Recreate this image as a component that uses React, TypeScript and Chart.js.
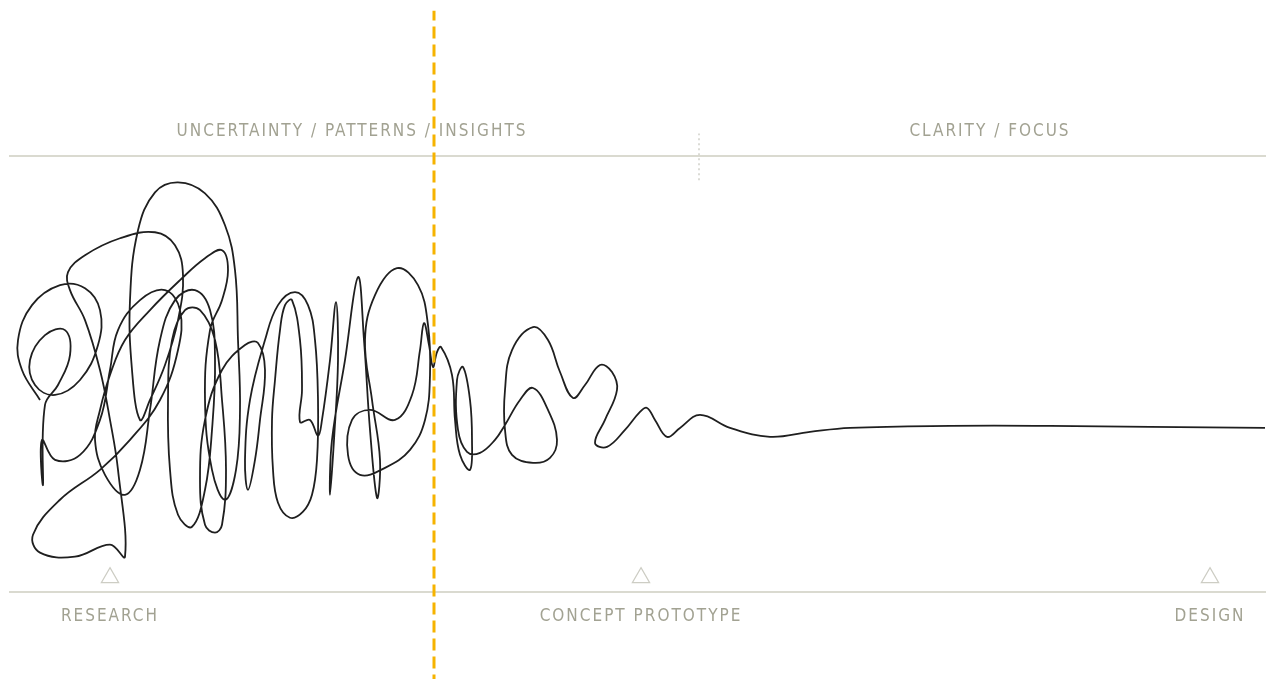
import React, { useEffect, useRef } from "react";
import { Chart, registerables } from "chart.js";

Chart.register(...registerables);

// Squiggle path: x = project progress, y = uncertainty (height above the baseline)
const SQUIGGLE_X = [
  30, 12, 8, 22, 50, 75, 90, 88, 70, 45,
  25, 20, 35, 55, 60, 48, 35, 33, 32, 45, 70,
  90, 100, 108, 130, 155, 170, 168, 150, 120, 90,
  50, 23, 30, 65, 100, 115, 108, 100, 90, 75,
  60, 58, 75, 110, 145, 165, 173, 168, 155, 140,
  130, 122, 120, 128, 145, 168, 195, 215, 225, 228,
  230, 226, 215, 202, 195, 200, 212, 218, 212, 195,
  170, 140, 115, 100, 90, 85, 95, 115, 130, 140,
  150, 165, 185, 200, 205, 202, 195, 182, 168, 160,
  158, 162, 175, 190, 205, 212, 216, 212, 205, 195,
  190, 195, 212, 235, 248, 255, 250, 245, 238, 235,
  240, 255, 268, 285, 298, 305, 308, 307, 302, 293,
  280, 268, 263, 262, 265, 270, 275, 282, 290, 292,
  290, 300, 308, 312, 320, 326, 328, 324, 320, 322,
  335, 348, 354, 360, 367, 370, 362, 355, 365, 387,
  408, 418, 420, 415, 400, 375, 350, 338, 342, 360,
  385, 402, 410, 414, 419, 423, 427, 431, 442, 445,
  450, 460, 462, 460, 453, 447, 448, 457, 470, 485,
  495, 510, 523, 538, 547, 540, 523, 502, 495, 495,
  502, 523, 538, 550, 563, 575, 590, 602, 607, 595,
  585, 597, 615, 630, 637, 645, 657, 670, 690, 720,
  760, 800, 840, 940, 1040, 1140, 1255,
];
const SQUIGGLE_Y = [
  192, 222, 252, 287, 307, 304, 282, 247, 212, 197,
  207, 232, 257, 262, 237, 207, 187, 107, 152, 132, 137,
  172, 222, 262, 292, 302, 282, 242, 192, 152, 122,
  92, 57, 39, 35, 47, 35, 122, 172, 222, 272,
  302, 320, 337, 354, 360, 347, 317, 272, 227, 192,
  172, 222, 292, 362, 400, 410, 399, 367, 322, 252,
  182, 122, 92, 122, 192, 262, 292, 322, 342, 334,
  312, 282, 252, 217, 182, 152, 117, 97, 122, 182,
  252, 292, 302, 282, 232, 162, 102, 65, 77, 122,
  192, 252, 282, 282, 252, 192, 122, 67, 59, 67,
  112, 172, 222, 247, 249, 222, 172, 132, 102, 132,
  192, 252, 287, 300, 287, 252, 192, 132, 97, 80,
  74, 89, 122, 172, 212, 262, 287, 292, 252, 202,
  170, 172, 156, 172, 232, 290, 232, 152, 97, 152,
  232, 315, 252, 162, 94, 132, 192, 252, 297, 324,
  307, 267, 217, 172, 142, 124, 117, 137, 172, 182,
  172, 197, 242, 269, 247, 225, 240, 245, 217, 172,
  137, 122, 152, 192, 225, 212, 162, 140, 139, 152,
  167, 192, 204, 182, 152, 134, 129, 137, 162, 202,
  242, 265, 252, 220, 194, 207, 227, 220, 202, 172,
  149, 145, 162, 180, 184, 172, 155, 164, 177, 164,
  155, 160, 164, 166, 166, 165, 164,
];

// Phases (bottom axis) and milestone markers
const PHASE_POS = [100, 631, 1200];
const PHASE_LABELS = ["RESEARCH", "CONCEPT PROTOTYPE", "DESIGN"];
const MARKER_LEVEL = 14;

// States (top axis)
const STATE_POS = [342, 980];
const STATE_LABELS = ["UNCERTAINTY / PATTERNS / INSIGHTS", "CLARITY / FOCUS"];

// "Today" marker (orange dashed) and state divider (grey dotted)
const TODAY_X = 424;
const TODAY_RANGE = [-95, 582];
const DIVIDER_X = 689;
const DIVIDER_RANGE = [412, 459];

const X_MIN = 0;
const X_MAX = 1255;
const Y_MIN = 0;
const Y_MAX = 436;

const FONT_FAMILY = '"Liberation Sans Narrow", "DejaVu Sans Condensed", "Roboto", sans-serif';
const LABEL_COLOR = "#a2a292";
const RULE_COLOR = "#dadad0";

const spacingPlugin = {
  id: "letterSpacing",
  beforeLayout(chart: any) {
    (chart.ctx as any).letterSpacing = "2px";
  },
  beforeDraw(chart: any) {
    (chart.ctx as any).letterSpacing = "2px";
  },
};

const noSidePadding = (scale: any) => {
  scale.paddingLeft = 0;
  scale.paddingRight = 0;
};

export default function App() {
  const ref = useRef<HTMLCanvasElement | null>(null);

  useEffect(() => {
    if (!ref.current) return;
    const squiggle = SQUIGGLE_X.map((x, i) => ({ x, y: SQUIGGLE_Y[i] }));
    const markers = PHASE_POS.map((x) => ({ x, y: MARKER_LEVEL }));
    const today = TODAY_RANGE.map((y) => ({ x: TODAY_X, y }));
    const divider = DIVIDER_RANGE.map((y) => ({ x: DIVIDER_X, y }));

    const chart = new Chart(ref.current, {
      type: "scatter",
      data: {
        datasets: [
          {
            label: "today",
            data: today,
            showLine: true,
            borderColor: "#f6b300",
            borderWidth: 3,
            borderDash: [12, 6],
            pointRadius: 0,
            clip: false as any,
          },
          {
            label: "divider",
            data: divider,
            showLine: true,
            borderColor: "#cfcfc8",
            borderWidth: 1.5,
            borderDash: [2, 3],
            pointRadius: 0,
            clip: false as any,
          },
          {
            label: "markers",
            data: markers,
            showLine: false,
            pointStyle: "triangle",
            pointRadius: 10,
            pointBorderWidth: 1.2,
            pointBorderColor: "#cdcdc4",
            pointBackgroundColor: "#ffffff",
          },
          {
            label: "process",
            data: squiggle,
            showLine: true,
            tension: 0.4,
            borderColor: "#1f1f1f",
            borderWidth: 1.8,
            pointRadius: 0,
            clip: false as any,
          },
        ],
      },
      options: {
        animation: false,
        responsive: true,
        maintainAspectRatio: false,
        events: [],
        layout: { autoPadding: false, padding: { left: 10, right: 5, top: 106, bottom: 37 } },
        plugins: {
          legend: { display: false },
          tooltip: { enabled: false },
          title: { display: false },
        },
        scales: {
          x: {
            type: "linear",
            position: "bottom",
            min: X_MIN,
            max: X_MAX,
            grid: { display: false, drawTicks: false },
            border: { display: true, color: RULE_COLOR, width: 2 },
            afterBuildTicks: (scale: any) => {
              scale.ticks = PHASE_POS.map((v) => ({ value: v }));
            },
            afterFit: noSidePadding,
            ticks: {
              autoSkip: false,
              maxRotation: 0,
              padding: 15,
              color: LABEL_COLOR,
              font: { family: FONT_FAMILY, size: 17 },
              callback: (_v: any, i: number) => PHASE_LABELS[i],
            },
          },
          x2: {
            type: "linear",
            position: "top",
            min: X_MIN,
            max: X_MAX,
            grid: { display: false, drawTicks: false },
            border: { display: true, color: RULE_COLOR, width: 2 },
            afterBuildTicks: (scale: any) => {
              scale.ticks = STATE_POS.map((v) => ({ value: v }));
            },
            afterFit: noSidePadding,
            ticks: {
              autoSkip: false,
              maxRotation: 0,
              padding: 15,
              color: LABEL_COLOR,
              font: { family: FONT_FAMILY, size: 17 },
              callback: (_v: any, i: number) => STATE_LABELS[i],
            },
          },
          y: {
            type: "linear",
            display: false,
            min: Y_MIN,
            max: Y_MAX,
          },
        },
      },
      plugins: [spacingPlugin],
    });
    return () => chart.destroy();
  }, []);

  return (
    <div style={{ position: "fixed", left: 0, top: 0, width: 1270, height: 679, background: "#fff" }}>
      <canvas ref={ref} />
    </div>
  );
}
